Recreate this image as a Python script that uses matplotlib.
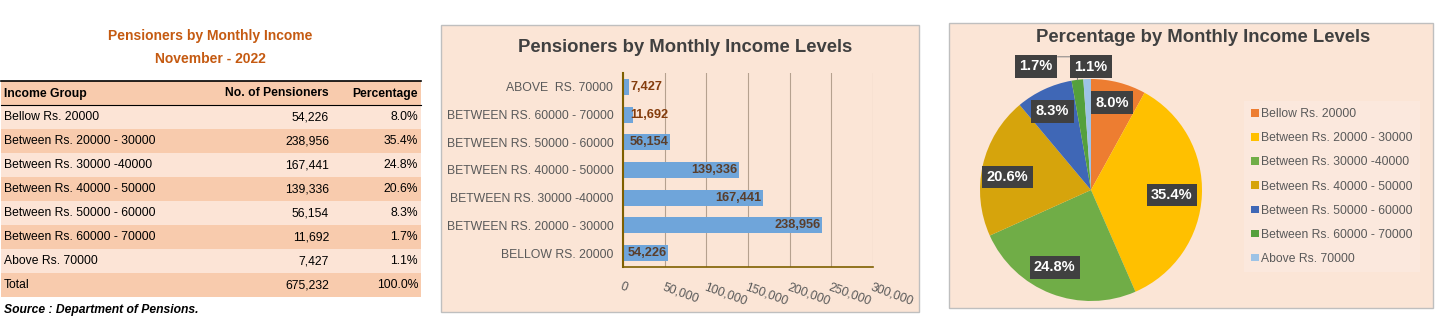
import numpy as np
import matplotlib
matplotlib.use("Agg")
import matplotlib.pyplot as plt
from matplotlib.patches import Rectangle

plt.rcParams['font.family'] = ['Liberation Sans', 'DejaVu Sans']

# data
groups = ["Bellow Rs. 20000", "Between Rs. 20000 - 30000", "Between Rs. 30000 -40000",
          "Between Rs. 40000 - 50000", "Between Rs. 50000 - 60000",
          "Between Rs. 60000 - 70000", "Above Rs. 70000"]
bar_labels = ["BELLOW RS. 20000", "BETWEEN RS. 20000 - 30000", "BETWEEN RS. 30000 -40000",
              "BETWEEN RS. 40000 - 50000", "BETWEEN RS. 50000 - 60000",
              "BETWEEN RS. 60000 - 70000", "ABOVE  RS. 70000"]
pensioners = [54226, 238956, 167441, 139336, 56154, 11692, 7427]
percent = [8.0, 35.4, 24.8, 20.6, 8.3, 1.7, 1.1]
total_pensioners = 675232
total_percent = 100.0
x_ticks = [0, 50000, 100000, 150000, 200000, 250000, 300000]

pie_colors = ['#ED7D31', '#FFC000', '#70AD47', '#D6A40C', '#3F67B6', '#54A03C', '#9DC3E6']

W, H = 1437, 327
fig = plt.figure(figsize=(W / 100, H / 100), dpi=100)
fig.patch.set_facecolor('white')


def fx(px):
    return px / W


def fy(py):
    return 1 - py / H


# background axes in pixel coords
bg = fig.add_axes([0, 0, 1, 1])
bg.set_xlim(0, W)
bg.set_ylim(H, 0)
bg.axis('off')

# ---- table ----
title_col = '#C55A11'
bg.text(210, 36, "Pensioners by Monthly Income", ha='center', va='center',
        fontsize=10, fontweight='bold', color=title_col)
bg.text(210, 59, "November - 2022", ha='center', va='center',
        fontsize=10, fontweight='bold', color=title_col)

dark = '#F8CBAD'
light = '#FCE4D6'
tx0, tx1 = 1, 421
row_h = 24
top = 81
rows = [("Income Group", "No. of Pensioners", "Percentage", True)]
for g, n, p in zip(groups, pensioners, percent):
    rows.append((g, f"{n:,}", f"{p:.1f}%", False))
rows.append(("Total", f"{total_pensioners:,}", f"{total_percent:.1f}%", False))

for i, (a, b, c, hdr) in enumerate(rows):
    y0 = top + i * row_h
    col = dark if i % 2 == 0 else light
    bg.add_patch(Rectangle((tx0, y0), tx1 - tx0, row_h, facecolor=col, edgecolor='none'))
    yc = y0 + row_h / 2 + 0.5
    fw = 'bold' if hdr else 'normal'
    bg.text(4, yc, a, ha='left', va='center', fontsize=8.7, fontweight=fw, color='black')
    bg.text(329, yc, b, ha='right', va='center', fontsize=8.7, fontweight=fw, color='black')
    bg.text(418, yc, c, ha='right', va='center', fontsize=8.7, fontweight=fw, color='black')
bg.plot([tx0, tx1], [top, top], color='black', lw=1.2)
bg.plot([tx0, tx1], [top + row_h, top + row_h], color='black', lw=0.8)
bg.text(4, 310, "Source : Department of Pensions.", ha='left', va='center',
        fontsize=8.7, fontweight='bold', style='italic', color='black')

# ---- panels ----
panel_bg = '#FBE5D6'
bg.add_patch(Rectangle((441, 25), 478, 287, facecolor=panel_bg, edgecolor='#BFBFBF', lw=1))
bg.add_patch(Rectangle((949, 23), 484, 285, facecolor=panel_bg, edgecolor='#BFBFBF', lw=1))
bg.text(685, 47, "Pensioners by Monthly Income Levels", ha='center', va='center',
        fontsize=13.3, fontweight='bold', color='#404040')
bg.text(1203, 37, "Percentage by Monthly Income Levels", ha='center', va='center',
        fontsize=13.3, fontweight='bold', color='#404040')

# ---- bar chart ----
axb = fig.add_axes([fx(623), fy(267), fx(873) - fx(623), fy(73) - fy(267)])
axb.set_facecolor('none')
ypos = np.arange(len(pensioners))
axb.barh(ypos, pensioners, height=0.58, color='#6FA5DA', zorder=2)
axb.set_xlim(0, 300000)
axb.set_ylim(-0.5, len(pensioners) - 0.5)
axb.set_yticks(ypos)
axb.set_yticklabels(bar_labels, fontsize=8.8, color='#595959')
axb.set_xticks(x_ticks)
axb.set_xticklabels([f"{v:,}" for v in x_ticks], fontsize=8.8, color='#595959',
                    rotation=-20, ha='left', va='top', rotation_mode='anchor')
axb.tick_params(axis='both', length=0, pad=7)
axb.tick_params(axis='x', pad=10)
axb.grid(axis='x', color='#B5A18F', lw=0.8, zorder=0)
for s in ['top', 'right']:
    axb.spines[s].set_visible(False)
axb.spines['left'].set_color('#7F6000')
axb.spines['left'].set_linewidth(1.5)
axb.spines['bottom'].set_color('#7F6000')
axb.spines['bottom'].set_linewidth(1.2)
for yv, v in zip(ypos, pensioners):
    if v < 40000:
        axb.text(8500, yv, f"{v:,}", ha='left', va='center', fontsize=9.2,
                 fontweight='bold', color='#843C0C', zorder=3)
    else:
        axb.text(v - 1500, yv, f"{v:,}", ha='right', va='center', fontsize=9.2,
                 fontweight='bold', color='#5A3E2B', zorder=3)

# ---- pie chart ----
r_px = 111
axp = fig.add_axes([fx(1091 - r_px), fy(190 + r_px), 2 * r_px / W, 2 * r_px / H])
axp.set_facecolor('none')
wedges, _ = axp.pie(percent, colors=pie_colors, startangle=90, counterclock=False,
                    radius=1, wedgeprops=dict(linewidth=0))
axp.set_xlim(-1, 1)
axp.set_ylim(-1, 1)
axp.set_aspect('equal')
axp.axis('off')

label_r = [0.81, 0.73, 0.77, 0.76, 0.79, 1.22, 1.11]
label_da = [1, -1, -4, 4, 1, 17, -2]
for w, p, rr, da in zip(wedges, percent, label_r, label_da):
    ang = np.deg2rad((w.theta1 + w.theta2) / 2 + da)
    x, y = rr * np.cos(ang), rr * np.sin(ang)
    axp.text(x, y, f"{p:.1f}%", ha='center', va='center', fontsize=10.5, fontweight='bold',
             color='white', clip_on=False, zorder=5,
             bbox=dict(boxstyle='square,pad=0.3', facecolor='#404040', edgecolor='none'))
# leader line for 1.7%
w = wedges[5]
ang = np.deg2rad((w.theta1 + w.theta2) / 2)
axp.plot([1.0 * np.cos(ang), -0.12, -0.3], [1.0 * np.sin(ang), 1.2, 1.2],
         color='#7F7F7F', lw=0.7, clip_on=False, zorder=4)

leg = axp.legend(wedges, groups, loc='upper left', bbox_to_anchor=(fx(1238), fy(95)),
                 bbox_transform=fig.transFigure, fontsize=8.7, frameon=True,
                 handlelength=0.6, handleheight=0.6, handletextpad=0.2,
                 labelspacing=1.0, borderpad=0.6, fancybox=False)
leg.get_frame().set_facecolor('#FBEAE0')
leg.get_frame().set_edgecolor('none')
for t in leg.get_texts():
    t.set_color('#595959')

fig.savefig('out.png', dpi=100)
